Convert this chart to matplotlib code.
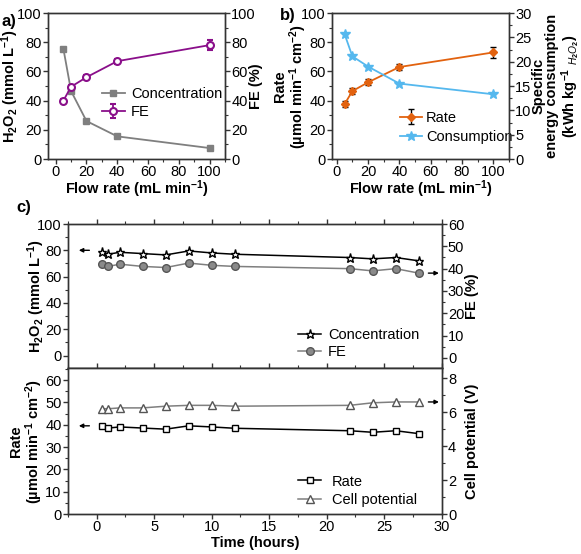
import matplotlib
matplotlib.use("Agg")
import matplotlib.pyplot as plt
from matplotlib.ticker import MultipleLocator

plt.rcParams['font.family'] = ['Liberation Sans', 'DejaVu Sans']
plt.rcParams['font.size'] = 10
plt.rcParams['mathtext.fontset'] = 'custom'
plt.rcParams['mathtext.rm'] = 'Liberation Sans:bold'
plt.rcParams['mathtext.it'] = 'Liberation Sans:italic'
plt.rcParams['mathtext.bf'] = 'Liberation Sans:bold'
plt.rcParams['mathtext.default'] = 'rm'

# ---- data: panel a ----
flow = [5, 10, 20, 40, 100]
conc_a = [75.5, 46.5, 26.0, 15.5, 7.5]
fe_a = [40.0, 49.5, 56.0, 67.0, 78.0]
fe_a_err = [1.0, 1.2, 1.2, 1.8, 3.5]

# ---- data: panel b ----
rate_b = [37.5, 46.5, 52.5, 63.0, 73.0]
rate_b_err = [2.0, 2.0, 2.0, 2.0, 3.5]
cons_b = [25.7, 21.1, 19.0, 15.5, 13.3]

# ---- data: panel c ----
time_c = [0.5, 1, 2, 4, 6, 8, 10, 12, 22, 24, 26, 28]
conc_c = [78.5, 77.0, 78.5, 77.5, 76.5, 79.5, 78.0, 77.0, 74.5, 73.5, 74.5, 72.0]
fe_c = [42.0, 41.0, 42.0, 41.0, 40.5, 42.5, 41.5, 41.0, 40.0, 39.0, 40.0, 38.0]
rate_c = [39.3, 38.5, 39.0, 38.5, 38.0, 39.5, 39.0, 38.4, 37.3, 36.6, 37.3, 36.0]
pot_c = [6.2, 6.2, 6.25, 6.25, 6.35, 6.4, 6.4, 6.35, 6.4, 6.55, 6.6, 6.6]

SP = '#333333'
GRAY = '#7f7f7f'
PURPLE = '#8a0f8a'
ORANGE = '#e2620f'
BLUE = '#55b8ee'

fig = plt.figure(figsize=(5.81, 5.54), dpi=100)

def style(ax):
    for s in ax.spines.values():
        s.set_color(SP)
        s.set_linewidth(1.0)
    ax.tick_params(direction='out', length=3.5, width=1, color=SP, labelsize=10.5, pad=1)
    ax.tick_params(which='minor', direction='out', length=2, width=0.8, color=SP)

lab = dict(fontsize=10.5, fontweight='bold')

def place_y(ax, x):
    ax.yaxis.label.set_va('center')
    ax.yaxis.label.set_ha('center')
    ax.yaxis.set_label_coords(x, 0.5)

def place_x(ax, y):
    ax.xaxis.label.set_va('center')
    ax.xaxis.set_label_coords(0.5, y)

# ---------- panel a ----------
axa = fig.add_axes([48/581, 1-159/554, 177/581, 146/554])
axa2 = axa.twinx()
la1, = axa.plot(flow, conc_a, '-s', color=GRAY, ms=4, lw=1.3, label='Concentration')
la2 = axa2.errorbar(flow, fe_a, yerr=fe_a_err, fmt='-o', color=PURPLE, mfc='white',
                    mec=PURPLE, mew=1.5, ms=5, lw=1.3, capsize=2, label='FE')
axa.set_xlim(-5, 110)
axa.set_ylim(0, 100)
axa2.set_ylim(0, 100)
axa.xaxis.set_major_locator(MultipleLocator(20))
axa.xaxis.set_minor_locator(MultipleLocator(10))
axa.yaxis.set_major_locator(MultipleLocator(20))
axa.yaxis.set_minor_locator(MultipleLocator(10))
axa2.yaxis.set_major_locator(MultipleLocator(20))
axa2.yaxis.set_minor_locator(MultipleLocator(10))
style(axa); style(axa2)
axa.set_xlabel('Flow rate (mL min$^{-1}$)', **lab)
axa.set_ylabel('H$_2$O$_2$ (mmol L$^{-1}$)', **lab)
axa2.set_ylabel('FE (%)', **lab)
place_x(axa, -0.21)
place_y(axa, -0.215)
place_y(axa2, 1.175)
axa.legend([la1, la2], ['Concentration', 'FE'], loc='upper left', bbox_to_anchor=(0.27, 0.53),
           frameon=False, fontsize=10.5, handlelength=1.6, handletextpad=0.4, labelspacing=0.25,
           borderaxespad=0)
fig.text(0.002, 0.975, 'a)', fontsize=12, fontweight='bold', va='top')

# ---------- panel b ----------
axb = fig.add_axes([332/581, 1-159/554, 177/581, 146/554])
axb2 = axb.twinx()
lb1 = axb.errorbar(flow, rate_b, yerr=rate_b_err, fmt='-D', color=ORANGE, ecolor='black',
                   ms=4.5, lw=1.3, capsize=2, elinewidth=1, label='Rate')
lb2, = axb2.plot(flow, cons_b, '-*', color=BLUE, ms=7, lw=1.3, label='Consumption')
axb.set_xlim(-3, 110)
axb.set_ylim(0, 100)
axb2.set_ylim(0, 30)
axb.xaxis.set_major_locator(MultipleLocator(20))
axb.xaxis.set_minor_locator(MultipleLocator(10))
axb.yaxis.set_major_locator(MultipleLocator(20))
axb.yaxis.set_minor_locator(MultipleLocator(10))
axb2.yaxis.set_major_locator(MultipleLocator(5))
axb2.yaxis.set_minor_locator(MultipleLocator(2.5))
style(axb); style(axb2)
axb.set_xlabel('Flow rate (mL min$^{-1}$)', **lab)
axb.set_ylabel('Rate\n(µmol min$^{-1}$ cm$^{-2}$)', linespacing=1.0, **lab)
axb2.set_ylabel('Specific\nenergy consumption\n(kWh kg$^{-1}$ $_{\\mathit{H_2O_2}}$)',
                linespacing=1.0, **lab)
place_x(axb, -0.21)
place_y(axb, -0.232)
place_y(axb2, 1.268)
axb.legend([lb1, lb2], ['Rate', 'Consumption'], loc='upper left', bbox_to_anchor=(0.35, 0.37),
           frameon=False, fontsize=10.5, handlelength=1.5, handletextpad=0.3, labelspacing=0.35,
           borderaxespad=0)
fig.text(280/581, 0.985, 'b)', fontsize=12, fontweight='bold', va='top')

# ---------- panel c top ----------
axc = fig.add_axes([68/581, 1-368/554, 373.7/581, 144/554])
axc2 = axc.twinx()
lc1, = axc.plot(time_c, conc_c, '-*', color='black', mfc='white', mec='black', mew=1,
                ms=6.5, lw=1.1, label='Concentration')
lc2, = axc2.plot(time_c, fe_c, '-o', color=GRAY, mfc='#8a8a8a', mec='#555555', ms=5.5,
                 lw=1.1, label='FE')
axc.set_xlim(-2.5, 30)
axc.set_ylim(-9.5, 100)
axc2.set_ylim(-4.5, 60)
axc.xaxis.set_major_locator(MultipleLocator(5))
axc.xaxis.set_minor_locator(MultipleLocator(2.5))
axc.yaxis.set_major_locator(MultipleLocator(20))
axc.yaxis.set_minor_locator(MultipleLocator(10))
axc2.yaxis.set_major_locator(MultipleLocator(10))
axc2.yaxis.set_minor_locator(MultipleLocator(5))
style(axc); style(axc2)
axc.tick_params(axis='x', labelbottom=False, top=True, which='both')
axc.set_ylabel('H$_2$O$_2$ (mmol L$^{-1}$)', **lab)
axc2.set_ylabel('FE (%)', **lab)
place_y(axc, -0.085)
place_y(axc2, 1.08)
axc.legend([lc1, lc2], ['Concentration', 'FE'], loc='upper left', bbox_to_anchor=(0.6, 0.32),
           frameon=False, fontsize=10.5, handlelength=1.6, handletextpad=0.45, labelspacing=0.25,
           borderaxespad=0)
axc.annotate('', xy=(-1.8, 80), xytext=(-0.4, 80),
             arrowprops=dict(arrowstyle='-|>', color='black', lw=1, mutation_scale=6))
axc2.annotate('', xy=(30, 38), xytext=(28.6, 38),
              arrowprops=dict(arrowstyle='-|>', color='black', lw=1, mutation_scale=6))
fig.text(16/581, 1-200/554, 'c)', fontsize=12, fontweight='bold', va='top')

# ---------- panel c bottom ----------
axd = fig.add_axes([68/581, 1-514/554, 373.7/581, 146/554])
axd2 = axd.twinx()
ld1, = axd.plot(time_c, rate_c, '-s', color='black', mfc='white', mec='black', mew=1,
                ms=5, lw=1.1, label='Rate')
ld2, = axd2.plot(time_c, pot_c, '-^', color=GRAY, mfc='white', mec='#555555', mew=1,
                 ms=6, lw=1.1, label='Cell potential')
axd.set_xlim(-2.5, 30)
axd.set_ylim(0, 65.4)
axd2.set_ylim(0, 8.6)
axd.xaxis.set_major_locator(MultipleLocator(5))
axd.xaxis.set_minor_locator(MultipleLocator(2.5))
axd.yaxis.set_major_locator(MultipleLocator(10))
axd.yaxis.set_minor_locator(MultipleLocator(5))
axd2.yaxis.set_major_locator(MultipleLocator(2))
axd2.yaxis.set_minor_locator(MultipleLocator(1))
style(axd); style(axd2)
axd.tick_params(axis='x', top=True, which='both')
axd.set_xlabel('Time (hours)', **lab)
axd.set_ylabel('Rate\n(µmol min$^{-1}$ cm$^{-2}$)', linespacing=1.0, **lab)
axd2.set_ylabel('Cell potential (V)', **lab)
place_x(axd, -0.2)
place_y(axd, -0.11)
place_y(axd2, 1.08)
axd.legend([ld1, ld2], ['Rate', 'Cell potential'], loc='upper left', bbox_to_anchor=(0.6, 0.31),
           frameon=False, fontsize=10.5, handlelength=1.6, handletextpad=0.7, labelspacing=0.3,
           borderaxespad=0)
axd.annotate('', xy=(-1.8, 39.5), xytext=(-0.4, 39.5),
             arrowprops=dict(arrowstyle='-|>', color='black', lw=1, mutation_scale=6))
axd2.annotate('', xy=(30, 6.6), xytext=(28.6, 6.6),
              arrowprops=dict(arrowstyle='-|>', color='black', lw=1, mutation_scale=6))

fig.savefig('out.png', dpi=100)
